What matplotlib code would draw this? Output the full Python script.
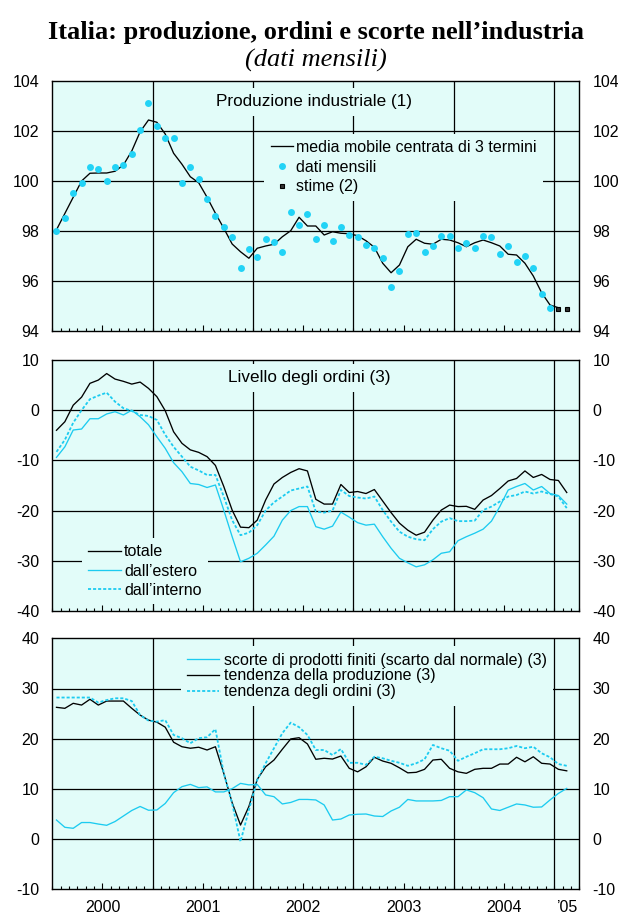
import matplotlib
matplotlib.use('Agg')
import matplotlib.pyplot as plt
import matplotlib.transforms as mtransforms
import numpy as np

plt.rcParams['font.family'] = ['Liberation Sans', 'DejaVu Sans']
plt.rcParams['axes.unicode_minus'] = False

# ---------------- data (monthly, Jan 2000 = month 0) ----------------
prod_monthly = [98.0, 98.53, 99.51, 99.92, 100.57, 100.48, 100.01, 100.57, 100.64, 101.07, 102.04, 103.12,
                102.21, 101.71, 101.71, 99.93, 100.56, 100.07, 99.29, 98.61, 98.15, 97.75, 96.51, 97.28,
                96.97, 97.69, 97.56, 97.16, 98.77, 98.23, 98.68, 97.69, 98.25, 97.59, 98.15, 97.83,
                97.77, 97.45, 97.33, 96.92, 95.75, 96.39, 97.89, 97.93, 97.17, 97.40, 97.79, 97.81,
                97.31, 97.51, 97.32, 97.81, 97.75, 97.07, 97.39, 96.76, 97.0, 96.51, 95.48, 94.93]
prod_ma = [98.05, 98.7, 99.35, 100.0, 100.31, 100.32, 100.32, 100.39, 100.64, 101.2, 101.97, 102.44,
           102.35, 101.88, 101.11, 100.67, 100.17, 99.93, 99.35, 98.71, 98.11, 97.48, 97.17, 96.91,
           97.31, 97.40, 97.47, 97.77, 98.01, 98.55, 98.2, 98.2, 97.84, 97.97, 97.91, 97.89,
           97.81, 97.61, 97.35, 96.71, 96.33, 96.64, 97.37, 97.67, 97.51, 97.47, 97.67, 97.64,
           97.53, 97.37, 97.53, 97.64, 97.53, 97.4, 97.07, 97.04, 96.71, 96.2, 95.53, 95.04, 94.93]
prod_stime_months = [60, 61]
prod_stime = [94.9, 94.9]

ord_tot = [-4.0, -2.3, 1.0, 2.6, 5.35, 6.0, 7.3, 6.2, 5.75, 5.2, 5.6, 4.35,
           2.7, -0.1, -4.3, -6.6, -7.9, -8.4, -9.25, -11.0, -15.2, -19.9, -23.3, -23.4,
           -21.9, -17.9, -14.7, -13.4, -12.4, -11.65, -12.1, -17.75, -18.7, -18.7, -14.8, -16.4,
           -16.2, -16.6, -15.8, -18.1, -20.4, -22.5, -23.9, -24.9, -24.3, -21.9, -19.9, -18.9,
           -19.2, -19.15, -19.75, -17.9, -17.0, -15.6, -14.1, -13.6, -12.1, -13.4, -12.8, -13.8,
           -14.0, -16.4]
ord_est = [-9.4, -7.3, -3.95, -3.75, -1.7, -1.7, -0.75, -0.3, -0.95, 0.0, -1.3, -2.9,
           -5.3, -7.6, -10.45, -12.25, -14.6, -14.8, -15.4, -14.9, -19.9, -25.2, -30.2, -29.5,
           -28.5, -26.85, -25.1, -21.9, -20.0, -19.2, -19.2, -23.2, -23.7, -23.1, -20.3, -21.3,
           -22.4, -22.9, -22.7, -25.2, -27.5, -29.5, -30.4, -31.2, -30.8, -29.8, -28.5, -28.2,
           -26.0, -25.2, -24.5, -23.7, -22.1, -19.2, -15.9, -15.2, -14.6, -15.9, -15.2, -16.6,
           -17.0, -18.7]
ord_int = [-8.3, -5.9, -2.5, 0.0, 2.2, 2.9, 3.5, 1.7, 0.4, -0.15, -0.95, -1.15,
           -1.95, -4.9, -7.3, -9.25, -11.25, -12.0, -12.9, -12.9, -17.2, -21.9, -24.9, -24.4,
           -22.9, -20.0, -18.35, -17.2, -16.0, -15.6, -15.2, -20.2, -20.4, -20.0, -15.9, -17.1,
           -17.4, -17.6, -17.2, -19.9, -22.2, -24.2, -25.2, -25.7, -25.9, -23.7, -22.2, -21.5,
           -22.1, -22.1, -22.0, -19.9, -19.2, -18.2, -17.2, -16.9, -16.2, -16.6, -16.2, -16.7,
           -17.2, -19.5]

scorte = [3.8, 2.35, 2.15, 3.3, 3.3, 3.0, 2.75, 3.5, 4.6, 5.7, 6.5, 5.75,
          5.8, 7.1, 9.25, 10.45, 10.9, 10.25, 10.4, 9.4, 9.4, 10.05, 11.1, 10.8,
          10.9, 8.8, 8.45, 7.0, 7.3, 7.9, 7.9, 7.8, 6.8, 3.8, 4.0, 4.8,
          4.95, 5.0, 4.6, 4.5, 5.6, 6.35, 7.9, 7.6, 7.6, 7.6, 7.7, 8.45,
          8.45, 9.8, 9.25, 8.25, 6.0, 5.7, 6.35, 7.0, 6.8, 6.35, 6.4, 7.8,
          9.1, 10.1]
tend_prod = [26.25, 26.05, 27.05, 26.7, 27.85, 26.7, 27.5, 27.5, 27.5, 26.05, 24.7, 23.7,
             23.3, 22.3, 19.3, 18.4, 18.1, 18.3, 17.75, 18.4, 13.1, 7.25, 2.8, 6.5,
             11.9, 14.4, 15.75, 17.9, 19.95, 20.2, 18.95, 15.9, 16.1, 15.95, 16.55, 14.1,
             13.4, 14.4, 16.3, 15.55, 15.1, 14.2, 13.2, 13.3, 13.9, 15.75, 15.9, 14.1,
             13.4, 13.1, 13.9, 14.1, 14.1, 14.95, 14.95, 16.3, 15.4, 16.4, 15.1, 14.95,
             13.9, 13.6]
tend_ord = [28.2, 28.2, 28.2, 28.2, 28.2, 27.2, 27.7, 28.05, 28.05, 27.5, 24.7, 23.6,
            23.4, 23.7, 20.75, 20.1, 19.1, 20.1, 20.3, 21.9, 13.1, 7.1, -0.5, 5.8,
            11.8, 15.1, 18.1, 21.1, 23.2, 22.3, 20.75, 17.75, 17.75, 16.75, 17.95, 15.2,
            15.2, 14.8, 16.4, 16.1, 15.6, 15.2, 14.6, 15.1, 15.9, 18.75, 18.1, 17.6,
            15.6, 16.4, 17.1, 17.9, 17.9, 17.9, 18.1, 18.55, 18.1, 18.4, 17.1, 16.3,
            14.95, 14.6]

year_labels = ['2000', '2001', '2002', '2003', '2004', '\u201905']
year_label_pos = [6, 18, 30, 42, 54, 61.5]
year_bounds = [12, 24, 36, 48, 60]
mid_year = [6, 18, 30, 42, 54]
n_months = 63

# ---------------- style ----------------
BG = '#e2fcf9'
CYAN = '#1ccbf0'
DOT = '#22d3f6'
FS = 11.5
DOTTED = (0, (1.7, 1.1))

fig = plt.figure(figsize=(6.18, 9.16), dpi=100)
L = 52.3 / 618
W = 527 / 618


def rect(top_px, bot_px):
    return [L, 1 - bot_px / 916, W, (bot_px - top_px) / 916]


def style(ax, ylim, yticks):
    ax.set_facecolor(BG)
    ax.set_xlim(0, n_months)
    ax.set_ylim(*ylim)
    ax.set_yticks(yticks)
    ax.tick_params(axis='y', which='both', length=0, labelsize=FS, pad=9.5,
                   labelleft=True, labelright=True)
    ax.set_xticks(np.arange(0, n_months + 1), minor=True)
    ax.set_xticks(mid_year)
    ax.tick_params(axis='x', which='minor', direction='in', length=2.0, width=0.8,
                   bottom=True, top=False)
    ax.tick_params(axis='x', which='major', direction='in', length=4.2, width=0.8,
                   bottom=True, top=False, labelbottom=False)
    for g in yticks[1:-1]:
        ax.axhline(g, color='black', lw=0.9, zorder=1)
    for b in year_bounds:
        ax.axvline(b, color='black', lw=0.9, zorder=1)
    for s in ax.spines.values():
        s.set_linewidth(1.0)
        s.set_zorder(6)


months = lambda n: np.arange(n) + 0.5

# ---------------- panel 1 ----------------
ax1 = fig.add_axes(rect(81, 331))
style(ax1, (94, 104), [94, 96, 98, 100, 102, 104])
ax1.plot(months(len(prod_ma)), prod_ma, color='black', lw=0.95, zorder=3,
         label='media mobile centrata di 3 termini')
ax1.plot(months(len(prod_monthly)), prod_monthly, ls='none', marker='o', ms=5,
         mfc=DOT, mec='none', zorder=4, label='dati mensili')
ax1.plot(np.array(prod_stime_months) + 0.5, prod_stime, ls='none', marker='s', ms=3.3,
         mfc='#333333', mec='black', mew=0.8, zorder=4, label='stime (2)')
ax1.text(0.4964, 0.917, 'Produzione industriale (1)', transform=ax1.transAxes,
         ha='center', va='center', fontsize=12.3, zorder=2,
         bbox=dict(facecolor=BG, edgecolor='none', pad=4.5))
leg1 = ax1.legend(loc='upper left', bbox_to_anchor=(0.402, 0.79), borderaxespad=0,
                  borderpad=0.4, fontsize=FS, handlelength=1.42, handletextpad=0.17,
                  labelspacing=0.3, frameon=True, fancybox=False, framealpha=1,
                  facecolor=BG, edgecolor='none', numpoints=1)
leg1.set_zorder(2)

# ---------------- panel 2 ----------------
ax2 = fig.add_axes(rect(360, 611))
style(ax2, (-40, 10), [-40, -30, -20, -10, 0, 10])
ax2.plot(months(len(ord_tot)), ord_tot, color='black', lw=0.95, zorder=3, label='totale')
ax2.plot(months(len(ord_est)), ord_est, color=CYAN, lw=0.95, zorder=3, label='dall\u2019estero')
ax2.plot(months(len(ord_int)), ord_int, color=CYAN, lw=1.3, ls=DOTTED, zorder=3,
         label='dall\u2019interno')
ax2.text(0.487, 0.9295, 'Livello degli ordini (3)', transform=ax2.transAxes,
         ha='center', va='center', fontsize=12.3, zorder=2,
         bbox=dict(facecolor=BG, edgecolor='none', pad=4.5))
leg2 = ax2.legend(loc='upper left', bbox_to_anchor=(0.0556, 0.2906), borderaxespad=0,
                  borderpad=0.4, fontsize=FS, handlelength=2.06, handletextpad=0.19,
                  labelspacing=0.26, frameon=True, fancybox=False, framealpha=1,
                  facecolor=BG, edgecolor='none')
leg2.set_zorder(2)

# ---------------- panel 3 ----------------
ax3 = fig.add_axes(rect(638.3, 889.3))
style(ax3, (-10, 40), [-10, 0, 10, 20, 30, 40])
ax3.plot(months(len(scorte)), scorte, color=CYAN, lw=0.95, zorder=3,
         label='scorte di prodotti finiti (scarto dal normale) (3)')
ax3.plot(months(len(tend_prod)), tend_prod, color='black', lw=0.95, zorder=3,
         label='tendenza della produzione (3)')
ax3.plot(months(len(tend_ord)), tend_ord, color=CYAN, lw=1.3, ls=DOTTED, zorder=3,
         label='tendenza degli ordini (3)')
leg3 = ax3.legend(loc='upper left', bbox_to_anchor=(0.244, 0.9687), borderaxespad=0,
                  borderpad=0.4, fontsize=FS, handlelength=2.0, handletextpad=0.29,
                  labelspacing=0.05, frameon=True, fancybox=False, framealpha=1,
                  facecolor=BG, edgecolor='none')
leg3.set_zorder(2)

trans = mtransforms.blended_transform_factory(ax3.transData, ax3.transAxes)
for lab, pos in zip(year_labels, year_label_pos):
    ax3.text(pos, -0.0745, lab, transform=trans, ha='center', va='center',
             fontsize=FS, clip_on=False)

# ---------------- titles ----------------
fig.text(0.5115, 1 - 39 / 916, 'Italia: produzione, ordini e scorte nell\u2019industria',
         ha='center', va='baseline', fontsize=19, fontweight='bold',
         family=['Liberation Serif', 'DejaVu Serif'])
fig.text(0.5115, 1 - 67 / 916, '(dati mensili)', ha='center', va='baseline',
         fontsize=19, fontstyle='italic', family=['Liberation Serif', 'DejaVu Serif'])

fig.savefig('out.png', dpi=100)
